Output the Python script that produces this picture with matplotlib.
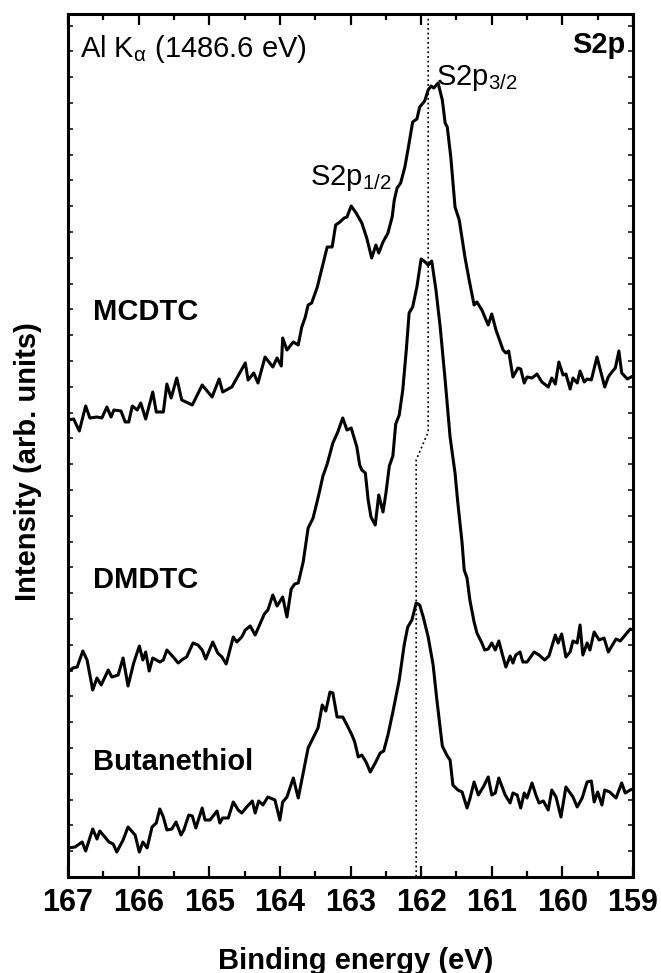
import matplotlib
matplotlib.use("Agg")
import matplotlib.pyplot as plt
from matplotlib.ticker import MultipleLocator, NullFormatter

plt.rcParams["font.family"] = ["Liberation Sans", "DejaVu Sans"]
plt.rcParams["mathtext.fontset"] = "custom"
plt.rcParams["mathtext.rm"] = "Liberation Sans"
plt.rcParams["mathtext.it"] = "Liberation Sans:italic"
plt.rcParams["mathtext.bf"] = "Liberation Sans:bold"

# ---- S2p spectra (binding energy in eV, intensity in arb. units, offset stacked) ----
mcdtc_be = [167.00, 166.92, 166.84, 166.75, 166.69, 166.59, 166.52, 166.45, 166.39, 166.35,
            166.25, 166.19, 166.14, 166.09, 166.02, 165.97, 165.90, 165.80, 165.75, 165.65,
            165.60, 165.54, 165.46, 165.39, 165.24, 165.10, 164.96, 164.86, 164.81, 164.68,
            164.49, 164.45, 164.37, 164.31, 164.21, 164.10, 164.04, 163.98, 163.96, 163.90,
            163.81, 163.74, 163.69, 163.64, 163.60, 163.55, 163.47, 163.40, 163.33, 163.26,
            163.21, 163.15, 163.09, 163.05, 162.99, 162.92, 162.84, 162.77, 162.70, 162.64,
            162.60, 162.54, 162.47, 162.41, 162.38, 162.34, 162.29, 162.23, 162.17, 162.12,
            162.06, 162.02, 161.95, 161.90, 161.86, 161.82, 161.76, 161.70, 161.66, 161.63,
            161.58, 161.52, 161.46, 161.38, 161.32, 161.25, 161.21, 161.14, 161.05, 161.00,
            160.94, 160.84, 160.80, 160.76, 160.70, 160.63, 160.59, 160.54, 160.50, 160.43,
            160.36, 160.29, 160.20, 160.15, 160.10, 160.05, 159.99, 159.95, 159.89, 159.85,
            159.79, 159.75, 159.69, 159.65, 159.59, 159.51, 159.40, 159.35, 159.30, 159.25,
            159.20, 159.16, 159.08, 159.00]
mcdtc_int = [457, 458, 446, 471, 459, 460, 459, 470, 460, 467,
             466, 455, 455, 471, 467, 474, 458, 485, 465, 465,
             493, 479, 499, 477, 472, 492, 480, 498, 485, 490,
             514, 497, 504, 494, 520, 510, 519, 511, 539, 527,
             535, 532, 550, 560, 572, 574, 590, 610, 630, 630,
             652, 655, 659, 660, 671, 664, 654, 639, 619, 632,
             624, 635, 644, 660, 677, 689, 694, 710, 734, 755,
             758, 770, 776, 787, 791, 789, 794, 777, 754, 750,
             720, 670, 657, 620, 597, 572, 575, 567, 552, 563,
             547, 527, 524, 526, 500, 509, 508, 494, 500, 499,
             503, 495, 490, 499, 493, 515, 502, 503, 488, 499,
             494, 506, 495, 498, 497, 520, 490, 500, 505, 509,
             526, 504, 498, 501]

dmdtc_be = [167.00, 166.93, 166.87, 166.79, 166.73, 166.65, 166.59, 166.53, 166.43, 166.38,
            166.29, 166.22, 166.15, 166.07, 165.99, 165.94, 165.90, 165.85, 165.80, 165.70,
            165.65, 165.60, 165.51, 165.44, 165.37, 165.32, 165.23, 165.16, 165.10, 165.05,
            164.95, 164.88, 164.82, 164.76, 164.66, 164.61, 164.54, 164.49, 164.42, 164.35,
            164.22, 164.17, 164.10, 164.04, 163.96, 163.90, 163.84, 163.79, 163.74, 163.67,
            163.60, 163.53, 163.46, 163.39, 163.33, 163.25, 163.18, 163.11, 163.05, 162.99,
            162.91, 162.87, 162.84, 162.79, 162.75, 162.71, 162.65, 162.60, 162.54, 162.50,
            162.45, 162.40, 162.36, 162.31, 162.26, 162.21, 162.17, 162.12, 162.06, 162.00,
            161.96, 161.90, 161.85, 161.79, 161.73, 161.66, 161.59, 161.52, 161.48, 161.42,
            161.39, 161.35, 161.31, 161.25, 161.21, 161.14, 161.10, 161.05, 161.00, 160.95,
            160.90, 160.84, 160.80, 160.74, 160.70, 160.66, 160.60, 160.56, 160.50, 160.40,
            160.33, 160.25, 160.19, 160.10, 160.06, 160.01, 159.95, 159.89, 159.85, 159.79,
            159.75, 159.71, 159.65, 159.61, 159.55, 159.48, 159.41, 159.35, 159.24, 159.18,
            159.11, 159.04, 159.00]
dmdtc_int = [205, 209, 210, 226, 217, 187, 199, 192, 207, 200,
             202, 219, 191, 214, 231, 217, 225, 206, 219, 215,
             217, 227, 220, 214, 218, 220, 234, 232, 227, 218,
             235, 224, 220, 213, 240, 235, 240, 247, 251, 242,
             263, 267, 282, 271, 280, 260, 288, 293, 294, 315,
             349, 359, 379, 401, 413, 434, 445, 459, 447, 449,
             430, 412, 407, 404, 377, 360, 352, 382, 365, 383,
             411, 421, 453, 462, 487, 527, 564, 570, 590, 618,
             616, 612, 616, 587, 550, 497, 440, 404, 374, 334,
             307, 299, 277, 255, 244, 234, 227, 228, 234, 227,
             236, 220, 210, 221, 214, 222, 225, 215, 215, 225,
             222, 217, 221, 242, 234, 243, 220, 225, 236, 234,
             252, 222, 234, 227, 245, 237, 239, 225, 238, 236,
             242, 248, 247]

buta_be = [167.00, 166.90, 166.80, 166.75, 166.70, 166.65, 166.59, 166.55, 166.48, 166.42,
           166.36, 166.31, 166.22, 166.15, 166.05, 165.99, 165.94, 165.88, 165.81, 165.75,
           165.70, 165.65, 165.60, 165.53, 165.47, 165.40, 165.36, 165.29, 165.24, 165.19,
           165.10, 165.06, 164.99, 164.89, 164.85, 164.81, 164.73, 164.66, 164.59, 164.54,
           164.47, 164.39, 164.35, 164.30, 164.24, 164.17, 164.07, 164.00, 163.96, 163.90,
           163.81, 163.74, 163.67, 163.60, 163.53, 163.46, 163.40, 163.35, 163.29, 163.25,
           163.19, 163.11, 163.05, 162.98, 162.94, 162.89, 162.84, 162.78, 162.72, 162.65,
           162.58, 162.53, 162.47, 162.40, 162.31, 162.24, 162.19, 162.13, 162.07, 162.02,
           161.97, 161.90, 161.83, 161.78, 161.70, 161.63, 161.59, 161.55, 161.48, 161.42,
           161.35, 161.31, 161.25, 161.19, 161.12, 161.05, 161.00, 160.95, 160.90, 160.81,
           160.74, 160.70, 160.64, 160.59, 160.54, 160.50, 160.43, 160.37, 160.33, 160.27,
           160.20, 160.15, 160.09, 160.02, 159.95, 159.89, 159.85, 159.79, 159.72, 159.65,
           159.59, 159.55, 159.50, 159.44, 159.40, 159.33, 159.24, 159.16, 159.11, 159.04,
           159.00]
buta_int = [29, 30, 35, 26, 37, 48, 38, 46, 40, 35,
            33, 25, 37, 50, 42, 25, 35, 29, 50, 54,
            68, 60, 47, 48, 55, 42, 47, 62, 61, 49,
            69, 57, 57, 66, 54, 59, 59, 75, 67, 64,
            70, 76, 64, 76, 72, 80, 77, 57, 75, 80,
            99, 79, 104, 129, 139, 149, 172, 166, 185, 184,
            160, 160, 152, 142, 135, 120, 122, 115, 105, 114,
            124, 126, 142, 165, 197, 232, 250, 257, 274, 272,
            260, 240, 212, 179, 131, 121, 117, 92, 87, 85,
            69, 78, 95, 82, 90, 100, 82, 84, 99, 82,
            74, 84, 82, 69, 84, 79, 94, 81, 74, 76,
            67, 87, 80, 60, 90, 84, 80, 70, 79, 95,
            96, 75, 85, 72, 87, 85, 79, 94, 84, 87,
            88]

# S2p3/2 position guide (shifts between the dithiocarbamates and the thiol)
guide_be = [161.90, 161.90, 162.07, 162.07]
guide_int = [863, 445, 417, 0]

sample_names = ["MCDTC", "DMDTC", "Butanethiol"]
sample_label_int = [557, 289, 107]

fig = plt.figure(figsize=(6.61, 9.73), dpi=100)
ax = fig.add_axes([68 / 661, 96 / 973, 565 / 661, 863 / 973])

line_kw = dict(color="black", lw=2.2, solid_joinstyle="round", solid_capstyle="round")
ax.plot(mcdtc_be, mcdtc_int, **line_kw)
ax.plot(dmdtc_be, dmdtc_int, **line_kw)
ax.plot(buta_be, buta_int, **line_kw)
ax.plot(guide_be, guide_int, color="black", lw=1.2, linestyle=(0, (1.1, 1.7)))

ax.set_xlim(167, 159)
ax.set_ylim(0, 863)

ax.xaxis.set_major_locator(MultipleLocator(1))
ax.xaxis.set_minor_locator(MultipleLocator(0.5))
ax.yaxis.set_major_locator(MultipleLocator(25.8))
ax.yaxis.set_major_formatter(NullFormatter())

ax.tick_params(axis="x", which="major", direction="in", top=True, bottom=True,
               length=8, width=1.6, pad=8, labelsize=22)
ax.tick_params(axis="x", which="minor", direction="in", top=True, bottom=True,
               length=4.5, width=1.6)
ax.tick_params(axis="y", which="major", direction="in", left=True, right=True,
               length=3.5, width=1.1)
for lab in ax.get_xticklabels():
    lab.set_fontweight("bold")
for sp in ax.spines.values():
    sp.set_linewidth(2.2)

ax.set_xlabel("Binding energy (eV)", fontsize=21, fontweight="bold")
ax.set_ylabel("Intensity (arb. units)", fontsize=21, fontweight="bold")
ax.xaxis.set_label_coords(0.509, -0.081)
ax.yaxis.set_label_coords(-0.046, 0.481)

for name, yv in zip(sample_names, sample_label_int):
    ax.text(166.65, yv, name, fontsize=21, fontweight="bold", ha="left", va="baseline")

ax.text(166.83, 820, r"Al K$_{\mathrm{α}}$ (1486.6 eV)", fontsize=21, ha="left", va="baseline")
ax.text(159.11, 824, "S2p", fontsize=21, fontweight="bold", ha="right", va="baseline")
ax.text(161.79, 792, r"S2p$_{\mathrm{3/2}}$", fontsize=21, ha="left", va="baseline")
ax.text(163.57, 692, r"S2p$_{\mathrm{1/2}}$", fontsize=21, ha="left", va="baseline")

fig.savefig("out.png", dpi=100)
